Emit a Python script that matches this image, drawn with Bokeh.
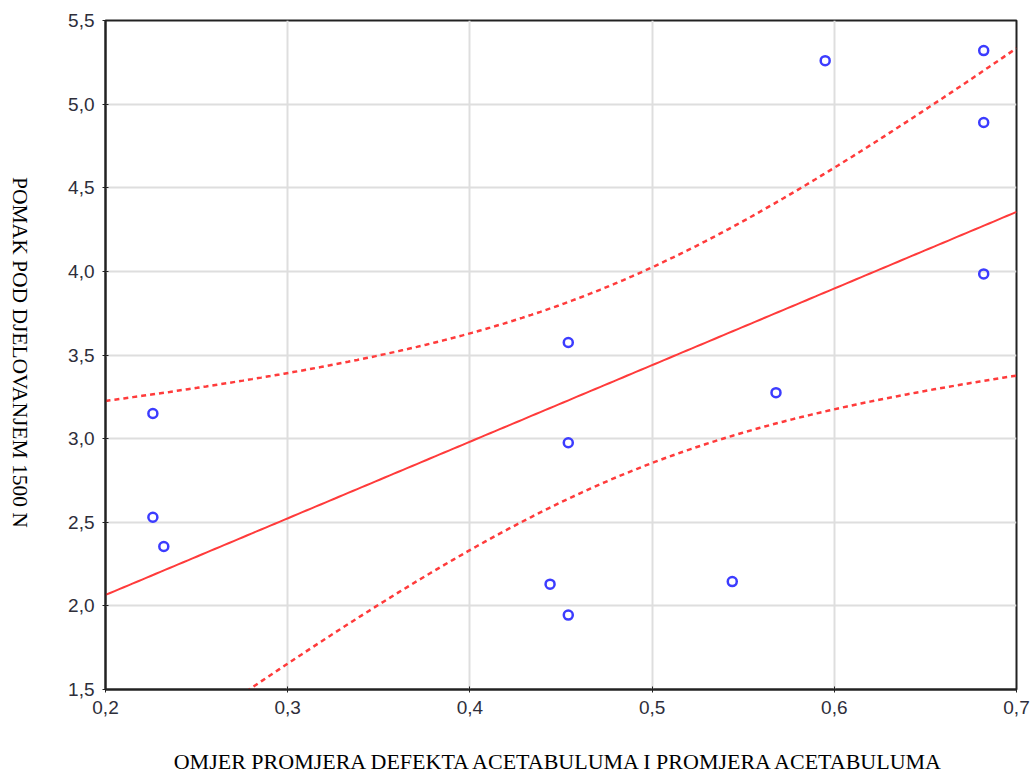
import numpy as np
from bokeh.plotting import figure
from bokeh.models import Range1d, FixedTicker, Div
from bokeh.layouts import row
from bokeh.embed import file_html
from bokeh.resources import INLINE

# data
ratio = [0.226, 0.226, 0.232, 0.454, 0.454, 0.444, 0.454, 0.544, 0.568, 0.595, 0.682, 0.682, 0.682]
displacement = [3.15, 2.53, 2.355, 3.575, 2.975, 2.13, 1.945, 2.145, 3.275, 5.26, 5.32, 4.89, 3.985]

x_ticks = [0.2, 0.3, 0.4, 0.5, 0.6, 0.7]
x_tick_labels = ["0,2", "0,3", "0,4", "0,5", "0,6", "0,7"]
y_ticks = [1.5, 2.0, 2.5, 3.0, 3.5, 4.0, 4.5, 5.0, 5.5]
y_tick_labels = ["1,5", "2,0", "2,5", "3,0", "3,5", "4,0", "4,5", "5,0", "5,5"]

x_label = "OMJER PROMJERA DEFEKTA ACETABULUMA I PROMJERA ACETABULUMA"
y_label = "POMAK POD DJELOVANJEM 1500 N"

T_975_11 = 2.201  # Student t quantile, 95 %, 11 dof

# linear fit with 95 % confidence band of the mean
x = np.array(ratio)
y = np.array(displacement)
n = len(x)
b, a = np.polyfit(x, y, 1)
res = y - (a + b * x)
s = np.sqrt(np.sum(res ** 2) / (n - 2))
sxx = np.sum((x - x.mean()) ** 2)
xs = np.linspace(x_ticks[0], x_ticks[-1], 200)
fit = a + b * xs
hw = T_975_11 * s * np.sqrt(1.0 / n + (xs - x.mean()) ** 2 / sxx)

p = figure(width=980, height=776, output_backend="svg", toolbar_location=None,
           x_range=Range1d(x_ticks[0], x_ticks[-1]), y_range=Range1d(y_ticks[0], y_ticks[-1]),
           min_border_left=55, min_border_top=20, min_border_right=14, min_border_bottom=86)

p.outline_line_color = "#222222"
p.outline_line_width = 2
p.background_fill_color = "white"
p.border_fill_color = "white"

for g in (p.xgrid, p.ygrid):
    g.grid_line_color = "#dedede"
    g.grid_line_width = 2

p.xaxis.ticker = FixedTicker(ticks=x_ticks)
p.yaxis.ticker = FixedTicker(ticks=y_ticks)
p.xaxis.major_label_overrides = {t: l for t, l in zip(x_ticks, x_tick_labels)}
p.yaxis.major_label_overrides = {t: l for t, l in zip(y_ticks, y_tick_labels)}

for ax in (p.xaxis, p.yaxis):
    ax.axis_line_color = "#222222"
    ax.axis_line_width = 2
    ax.major_tick_line_color = "#222222"
    ax.major_tick_in = 3
    ax.major_tick_out = 3
    ax.minor_tick_line_color = None
    ax.major_label_text_font = "Liberation Sans"
    ax.major_label_text_font_size = "19px"
    ax.major_label_text_color = "#2e2e3a"

p.xaxis.major_label_standoff = 8
p.yaxis.major_label_standoff = 8

p.xaxis.axis_label = x_label
p.xaxis.axis_label_text_font = "Liberation Serif"
p.xaxis.axis_label_text_font_style = "normal"
p.xaxis.axis_label_text_font_size = "22px"
p.xaxis.axis_label_text_color = "black"
p.xaxis.axis_label_standoff = 32

# red regression line and dashed confidence band
p.line(xs, fit, line_color="#ff3b3b", line_width=2)
p.line(xs, fit + hw, line_color="#ff3b3b", line_width=2.5, line_dash="5 4")
p.line(xs, fit - hw, line_color="#ff3b3b", line_width=2.5, line_dash="5 4")

p.scatter(ratio, displacement, marker="circle", size=9, fill_color=None,
          line_color="#3c3cff", line_width=2.5)

ylab_html = ('<div style="position:absolute; left:4px; top:172px; writing-mode:vertical-rl; '
             'font-family:\'Liberation Serif\'; font-size:21.5px; line-height:22px; '
             'color:black; white-space:nowrap;">' + y_label + '</div>')
ylab = Div(text=ylab_html, width=40, height=776)

layout = row(ylab, p)
open("out.html", "w").write(file_html(layout, INLINE))
